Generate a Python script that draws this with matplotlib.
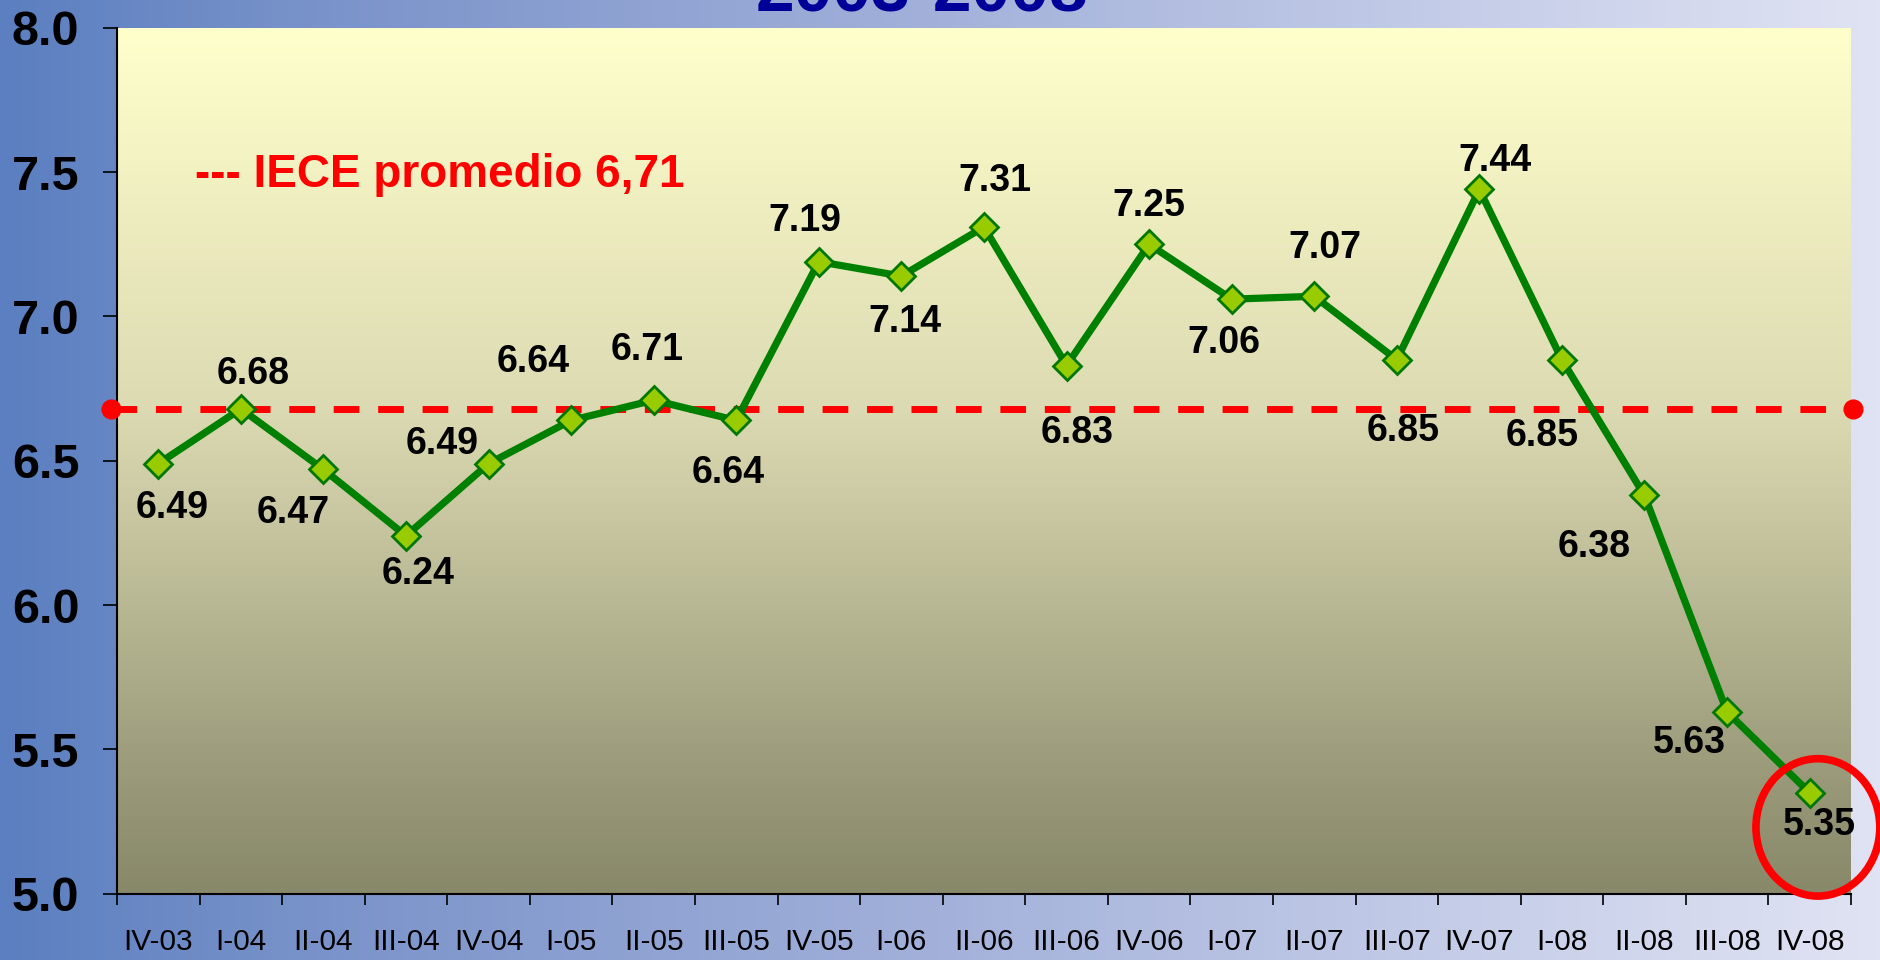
import matplotlib
matplotlib.use("Agg")
import matplotlib.pyplot as plt
import numpy as np
from matplotlib.colors import LinearSegmentedColormap
from matplotlib.patches import Ellipse

plt.rcParams['font.family'] = ['Liberation Sans', 'DejaVu Sans']

quarters = ['IV-03', 'I-04', 'II-04', 'III-04', 'IV-04', 'I-05', 'II-05', 'III-05',
            'IV-05', 'I-06', 'II-06', 'III-06', 'IV-06', 'I-07', 'II-07', 'III-07',
            'IV-07', 'I-08', 'II-08', 'III-08', 'IV-08']
iece = [6.49, 6.68, 6.47, 6.24, 6.49, 6.64, 6.71, 6.64, 7.19, 7.14, 7.31, 6.83,
        7.25, 7.06, 7.07, 6.85, 7.44, 6.85, 6.38, 5.63, 5.35]
promedio = 6.68
promedio_text = '--- IECE promedio 6,71'
title = '2003-2008'
yticks = [5.0, 5.5, 6.0, 6.5, 7.0, 7.5, 8.0]

# where each value label sits relative to its point (pixels)
label_offsets = [(14, -44), (12, 35), (-30, -44), (12, -38), (-46, 20), (-38, 58),
                 (-7, 50), (-8, -53), (-14, 41), (4, -46), (11, 46), (11, -67),
                 (0, 38), (-8, -44), (11, 48), (6, -71), (16, 28), (-20, -76),
                 (-50, -52), (-38, -31), (10, -32)]

fig = plt.figure(figsize=(18.81, 9.6), dpi=100)

# slide background
bg = fig.add_axes([0, 0, 1, 1], zorder=-10)
bg_cmap = LinearSegmentedColormap.from_list(
    'bg', [(0, '#5b7fc0'), (0.15, '#7791c9'), (0.5, '#a3b1da'), (1, '#e0e3f3')])
bg.imshow(np.linspace(0, 1, 256).reshape(1, -1), cmap=bg_cmap, aspect='auto',
          extent=[0, 1, 0, 1])
bg.set_axis_off()

ax = fig.add_axes([0.0622, 0.069, 0.9218, 0.902])
n = len(quarters)
x = np.arange(n)
ax.set_xlim(-0.5, n - 0.5)
ax.set_ylim(yticks[0], yticks[-1])

# plot area gradient
area_cmap = LinearSegmentedColormap.from_list(
    'area', [(0, '#ffffcc'), (0.44, '#dcdab2'), (0.85, '#9c9c7c'), (1, '#88886a')])
ax.imshow(np.linspace(0, 1, 256).reshape(-1, 1), cmap=area_cmap, aspect='auto',
          extent=[-0.5, n - 0.5, yticks[0], yticks[-1]], zorder=0)

# average line
ax.plot([-0.57, n - 0.48], [promedio, promedio], color='#ff0000', lw=5,
        dashes=(3.7, 2.7), zorder=3, clip_on=False)
ax.plot([-0.57, n - 0.48], [promedio, promedio], 'o', color='#ff0000', ms=13.5,
        zorder=3, clip_on=False)

ax.plot(x, iece, color='#008000', lw=5.2, marker='D', ms=14, mfc='#99cc00',
        mec='#007700', mew=2, zorder=4)

for xi, v, off in zip(x, iece, label_offsets):
    ax.annotate(f'{v:.2f}', (xi, v), xytext=off, textcoords='offset pixels',
                ha='center', va='center', fontsize=27, fontweight='bold',
                color='black', zorder=5)

ax.text(0.045, 0.83, promedio_text, transform=ax.transAxes, color='#ff0000',
        fontsize=33, fontweight='bold', va='center', ha='left')

# red circle round the last quarter
ax.add_patch(Ellipse((x[-1] + 0.1, iece[-1] - 0.12), 1.5, 0.476, fill=False,
                     ec='#ff0000', lw=5.5, zorder=6, clip_on=False))

ax.set_yticks(yticks)
ax.set_yticklabels([f'{t:.1f}' for t in yticks], fontsize=35, fontweight='bold')
ax.set_xticks(x)
ax.set_xticklabels(quarters, fontsize=21.5)
ax.set_xticks(np.arange(-0.5, n), minor=True)
ax.tick_params(axis='x', which='major', length=0, pad=25)
ax.tick_params(axis='x', which='minor', length=8, width=1.2, direction='out')
ax.tick_params(axis='y', length=10, width=1.2, pad=17)
for s in ['top', 'right']:
    ax.spines[s].set_visible(False)
for s in ['left', 'bottom']:
    ax.spines[s].set_linewidth(1.5)

fig.text(0.49, 1 - 12 / 960, title, ha='center', va='baseline', fontsize=50,
         fontweight='bold', color='#000099')

fig.savefig('out.png', dpi=100)
